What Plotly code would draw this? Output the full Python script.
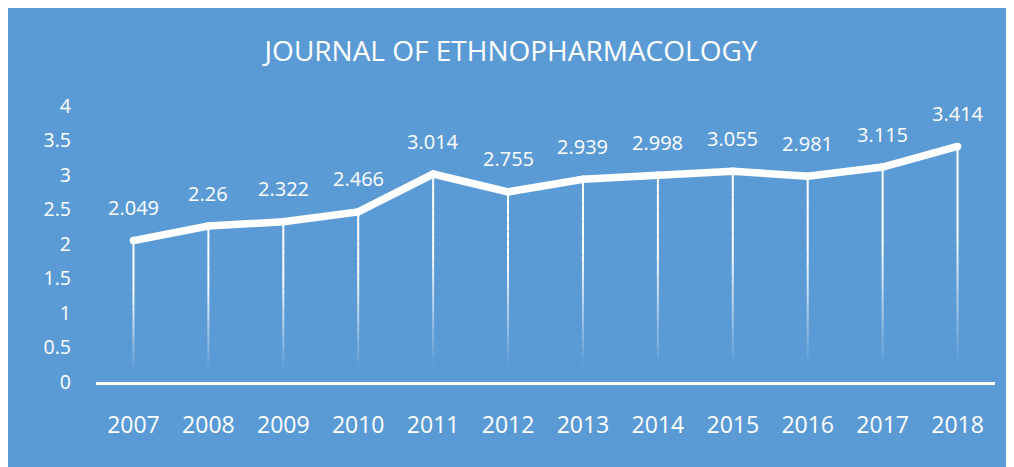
import plotly.graph_objects as go
import numpy as np

years = ["2007", "2008", "2009", "2010", "2011", "2012", "2013", "2014", "2015", "2016", "2017", "2018"]
impact = [2.049, 2.26, 2.322, 2.466, 3.014, 2.755, 2.939, 2.998, 3.055, 2.981, 3.115, 3.414]
labels = ["2.049", "2.26", "2.322", "2.466", "3.014", "2.755", "2.939", "2.998", "3.055", "2.981", "3.115", "3.414"]
y_ticks = [0, 0.5, 1, 1.5, 2, 2.5, 3, 3.5, 4]
y_tick_text = ["0", "0.5", "1", "1.5", "2", "2.5", "3", "3.5", "4"]
title_text = "JOURNAL OF ETHNOPHARMACOLOGY"

BLUE = "#5B9BD5"
W, H = 1006, 459
ML, MR, MT, MB = 88, 19, 98, 85
FONT = "Open Sans"

idx = list(range(len(years)))

fig = go.Figure()

# gradient drop lines (fade towards the axis)
N = 24
for k in range(N):
    f0, f1 = k / N, (k + 1) / N
    fm = (f0 + f1) / 2
    alpha = float(np.clip((fm - 0.08) / 0.55, 0, 1))
    if alpha <= 0:
        continue
    xs, ys = [], []
    for i, v in zip(idx, impact):
        xs += [i, i, None]
        ys += [v * f0, v * f1, None]
    fig.add_trace(go.Scatter(x=xs, y=ys, mode="lines",
                             line=dict(color=f"rgba(255,255,255,{alpha:.3f})", width=2),
                             hoverinfo="skip", showlegend=False))

fig.add_trace(go.Scatter(x=idx, y=impact, mode="lines+markers",
                         line=dict(color="white", width=7.5),
                         marker=dict(color="white", size=7.5),
                         showlegend=False))

for i, v, t in zip(idx, impact, labels):
    fig.add_annotation(x=i, y=v, xref="x", yref="y", text=t, showarrow=False, yshift=33,
                       font=dict(family=FONT, size=20, color="white"))

fig.update_layout(
    width=W, height=H,
    margin=dict(l=ML, r=MR, t=MT, b=MB),
    paper_bgcolor=BLUE, plot_bgcolor=BLUE,
    title=dict(text=title_text, x=0.5, xref="container", y=1 - 43 / H, yref="container",
               xanchor="center", yanchor="middle",
               font=dict(family=FONT, size=28, color="white")),
    font=dict(family=FONT, color="white"),
    xaxis=dict(range=[-0.5, 11.5], tickvals=idx, ticktext=years, showgrid=False, zeroline=False,
               showline=True, linecolor="white", linewidth=2.5,
               ticks="", ticklabelstandoff=21,
               tickfont=dict(family=FONT, size=23, color="white")),
    yaxis=dict(range=[0, 4], tickvals=y_ticks, ticktext=y_tick_text, showgrid=False,
               zeroline=False, showline=False, ticks="", ticklabelstandoff=24,
               tickfont=dict(family=FONT, size=19.5, color="white")),
)

fig.write_html("out.html")
